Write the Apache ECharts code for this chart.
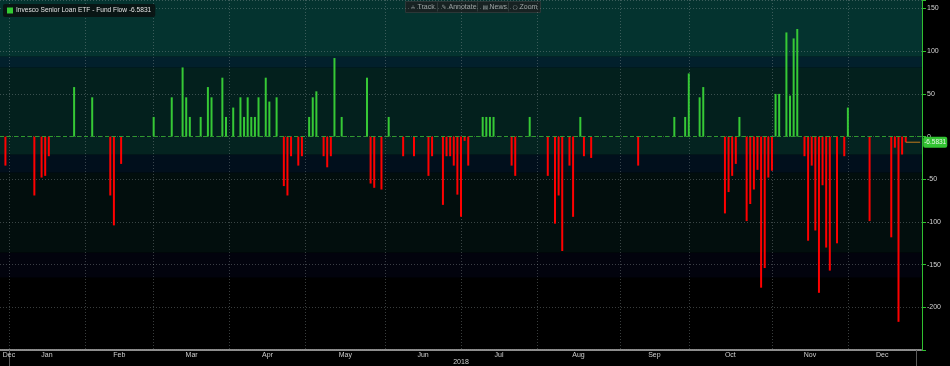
<!DOCTYPE html>
<html><head><meta charset="utf-8">
<script src="https://cdn.jsdelivr.net/npm/echarts@6/dist/echarts.min.js"></script>
<style>html,body{margin:0;padding:0;background:#000;}#c{width:950px;height:366px;}</style>
</head><body><div id="c"></div>
<script>
// ---------- data ----------
const seriesName = 'Invesco Senior Loan ETF - Fund Flow';
const lastValue = -6.5831;
const flowDates = [
 '2017-12-29','2018-01-11','2018-01-16','2018-01-17','2018-01-18','2018-01-29','2018-02-05','2018-02-12','2018-02-13','2018-02-15',
 '2018-03-01','2018-03-08','2018-03-13','2018-03-14','2018-03-15','2018-03-20','2018-03-22','2018-03-23','2018-03-28','2018-03-29',
 '2018-04-03','2018-04-05','2018-04-06','2018-04-09','2018-04-10','2018-04-11','2018-04-12','2018-04-16','2018-04-17','2018-04-19',
 '2018-04-23','2018-04-24','2018-04-25','2018-04-27','2018-04-30','2018-05-02','2018-05-03','2018-05-04','2018-05-08','2018-05-09',
 '2018-05-10','2018-05-11','2018-05-15','2018-05-24','2018-05-25','2018-05-29','2018-05-31','2018-06-04','2018-06-08','2018-06-13',
 '2018-06-19','2018-06-20','2018-06-25','2018-06-26','2018-06-27','2018-06-28','2018-06-29','2018-07-02','2018-07-03','2018-07-05',
 '2018-07-11','2018-07-12','2018-07-13','2018-07-16','2018-07-23','2018-07-24','2018-07-30','2018-08-06','2018-08-08','2018-08-09',
 '2018-08-10','2018-08-14','2018-08-15','2018-08-17','2018-08-20','2018-08-22','2018-09-11','2018-09-25','2018-09-28','2018-10-01',
 '2018-10-04','2018-10-05','2018-10-15','2018-10-16','2018-10-17','2018-10-18','2018-10-19','2018-10-23','2018-10-24','2018-10-25',
 '2018-10-26','2018-10-29','2018-10-30','2018-10-31','2018-11-01','2018-11-02','2018-11-05','2018-11-07','2018-11-08','2018-11-09',
 '2018-11-12','2018-11-14','2018-11-15','2018-11-16','2018-11-19','2018-11-20','2018-11-21','2018-11-23','2018-11-26','2018-11-28',
 '2018-11-30','2018-12-03','2018-12-12','2018-12-20','2018-12-21','2018-12-24','2018-12-26','2018-12-27'
];
const flowValues = [
 -34,-69,-48,-46,-23,58,46,-69,-104,-32,
 23,46,81,46,23,23,58,46,69,23,
 34,46,23,46,23,23,46,69,41,46,
 -58,-69,-23,-34,-23,23,46,53,-23,-36,
 -23,92,23,69,-55,-60,-62,23,-23,-23,
 -46,-23,-80,-23,-23,-34,-68,-94,-5,-34,
 23,23,23,23,-34,-46,23,-46,-102,-69,
 -134,-34,-94,23,-23,-25,-34,23,23,74,
 46,58,-90,-65,-46,-32,23,-99,-79,-62,
 -39,-177,-154,-48,-40,50,50,122,48,115,
 126,-23,-122,-34,-110,-183,-57,-130,-157,-125,
 -23,34,-99,-118,-13,-217,-21,-6.5831
];
const holidays = ['2018-01-01','2018-01-15','2018-02-19','2018-03-30','2018-05-28','2018-07-04','2018-09-03','2018-11-22','2018-12-05','2018-12-25','2019-01-01'];
const firstDay = '2017-12-28';
const lastDay = '2019-01-03';
const monthNames = ['Jan','Feb','Mar','Apr','May','Jun','Jul','Aug','Sep','Oct','Nov','Dec'];
const yearLabel = '2018';
const yTickLabels = [150,100,50,0,-50,-100,-150,-200];
const bandEdges = [160, 93.6, 80.7, 0, -21.3, -42.4, -136.2, -165.5, -250];
const bandColors = ['#04332f','#02202c','#03201d','#042320','#010f1c','#020e0d','#02030d','#000000'];
const toolbarItems = ['Track','Annotate','News','Zoom'];

// ---------- trading-day categories ----------
const cats = [];
{
  let t = Date.parse(firstDay + 'T00:00:00Z');
  const end = Date.parse(lastDay + 'T00:00:00Z');
  while (t <= end) {
    const d = new Date(t);
    const s = d.toISOString().slice(0, 10);
    const w = d.getUTCDay();
    if (w !== 0 && w !== 6 && holidays.indexOf(s) < 0) cats.push(s);
    t += 86400000;
  }
}
const valueByDate = {};
flowDates.forEach((d, i) => { valueByDate[d] = flowValues[i]; });
const barData = cats.map(c => (c in valueByDate ? valueByDate[c] : '-'));
const lastDate = flowDates[flowDates.length - 1];
const lastLine = cats.map(c => (c === lastDate || c === cats[cats.length - 1]) ? lastValue : '-');

const monthFirst = {};
cats.forEach((c, i) => { const k = c.slice(0, 7); if (!(k in monthFirst)) monthFirst[k] = i; });
const monthStarts = [];
const labelMap = {};
for (let m = 1; m <= 12; m++) {
  const k = '2018-' + String(m).padStart(2, '0');
  const nk = m === 12 ? '2019-01' : '2018-' + String(m + 1).padStart(2, '0');
  const f = monthFirst[k], n = monthFirst[nk];
  monthStarts.push(f);
  const s = f + n;
  labelMap[Math.floor(s / 2)] = (s % 2 ? '{b|' : '{a|') + monthNames[m - 1] + '}';
}
labelMap[cats.indexOf('2017-12-29')] = '{c|' + monthNames[11] + '}';
const yearStarts = [monthFirst['2018-01'], monthFirst['2019-01']];

const bands = [];
for (let i = 0; i < bandColors.length; i++) {
  bands.push([{ yAxis: bandEdges[i], itemStyle: { color: bandColors[i] } }, { yAxis: bandEdges[i + 1] }]);
}

const lab = { color: '#cfcfcf', fontSize: 7, fontFamily: 'Liberation Sans' };
const gridLine = { color: 'rgba(150,160,160,0.38)', type: [1, 2], width: 1 };

// toolbar graphic
const tbX = [12, 43, 84, 114];
const tbIcon = ['+', '\u270E', '\u25A4', '\u25CB'];
const tbChildren = [{ type: 'rect', shape: { x: 0, y: 0, width: 135, height: 11 }, style: { fill: '#172222', stroke: '#2b3737', lineWidth: 1 } }];
[32, 72, 103].forEach(x => tbChildren.push({ type: 'line', shape: { x1: x, y1: 1, x2: x, y2: 10 }, style: { stroke: '#2f3b3b', lineWidth: 1 } }));
toolbarItems.forEach((t, i) => {
  tbChildren.push({ type: 'text', x: tbX[i] - 7, y: 5.5, style: { text: tbIcon[i], fill: '#8a9494', font: '6px DejaVu Sans', verticalAlign: 'middle' } });
  tbChildren.push({ type: 'text', x: tbX[i], y: 5.5, style: { text: t, fill: '#9aa2a2', font: '7px Liberation Sans', verticalAlign: 'middle' } });
});

const chart = echarts.init(document.getElementById('c'));
chart.setOption({
  backgroundColor: '#000',
  animation: false,
  textStyle: { fontFamily: 'Liberation Sans' },
  grid: { left: 0, right: 28, top: 0, bottom: 16, containLabel: false, outerBoundsMode: 'none' },
  legend: {
    left: 3, top: 4, z: 20,
    data: [{ name: seriesName, icon: 'rect', itemStyle: { color: '#33cc33' } }],
    formatter: n => n + ' ' + lastValue.toFixed(4),
    backgroundColor: 'rgba(10,18,18,0.92)', borderRadius: 2,
    padding: [3, 4, 3, 4], itemWidth: 6, itemHeight: 6, itemGap: 4,
    textStyle: { color: '#e2e2e2', fontSize: 6.6, fontFamily: 'Liberation Sans', padding: [0, 0, 0, -2] }
  },
  graphic: [{ type: 'group', left: 405, top: 0, z: 100, children: tbChildren }],
  xAxis: {
    type: 'category', data: cats, boundaryGap: true,
    axisLine: { onZero: false, lineStyle: { color: '#8e8e8e', width: 2, type: [1, 1] } },
    axisTick: { show: true, alignWithLabel: true, interval: i => yearStarts.indexOf(i) >= 0, length: 16, lineStyle: { color: '#5a5a5a' } },
    axisLabel: {
      interval: i => labelMap[i] !== undefined,
      formatter: (v, i) => labelMap[i] || '',
      margin: 2, color: '#cfcfcf', fontSize: 7,
      rich: { a: lab, b: Object.assign({ padding: [0, 0, 0, 3.6] }, lab), c: Object.assign({ padding: [0, 0, 0, 7] }, lab) }
    },
    splitLine: { show: true, alignWithLabel: true, interval: i => monthStarts.indexOf(i) >= 0, lineStyle: gridLine },
    name: yearLabel, nameLocation: 'middle', nameGap: 9, nameMoveOverlap: false,
    nameTextStyle: { color: '#cfcfcf', fontSize: 7, fontFamily: 'Liberation Sans' }
  },
  yAxis: {
    type: 'value', position: 'right', min: -250, max: 160, interval: 50,
    axisLine: { show: true, lineStyle: { color: '#30c030', width: 1 } },
    axisTick: { show: true, length: 4, lineStyle: { color: '#30c030' } },
    axisLabel: { color: '#d4d4d4', fontSize: 7, margin: 5, formatter: v => (yTickLabels.indexOf(v) >= 0 ? String(v) : '') },
    splitLine: { show: true, lineStyle: gridLine }
  },
  series: [
    {
      name: 'bands', type: 'line', data: [], z: -1, silent: true,
      markArea: { silent: true, z: -1, data: bands }
    },
    {
      name: seriesName, type: 'bar', data: barData, barWidth: 2, z: 3,
      itemStyle: { color: p => (p.value >= 0 ? '#36c936' : '#ff0000') },
      markLine: { silent: true, symbol: 'none', label: { show: false }, lineStyle: { color: '#2e9a2e', type: [4, 3], width: 1 }, data: [{ yAxis: 0 }] }
    },
    {
      name: 'last', type: 'line', data: lastLine, connectNulls: true, symbol: 'none', silent: true, z: 4,
      lineStyle: { color: '#c27a1c', width: 1 },
      endLabel: { show: true, formatter: () => lastValue.toFixed(4), backgroundColor: '#33c433', color: '#e6f5e6', fontSize: 6.5, padding: [2, 1, 2, 1], borderRadius: 2, distance: 3 }
    }
  ]
});
</script></body></html>
